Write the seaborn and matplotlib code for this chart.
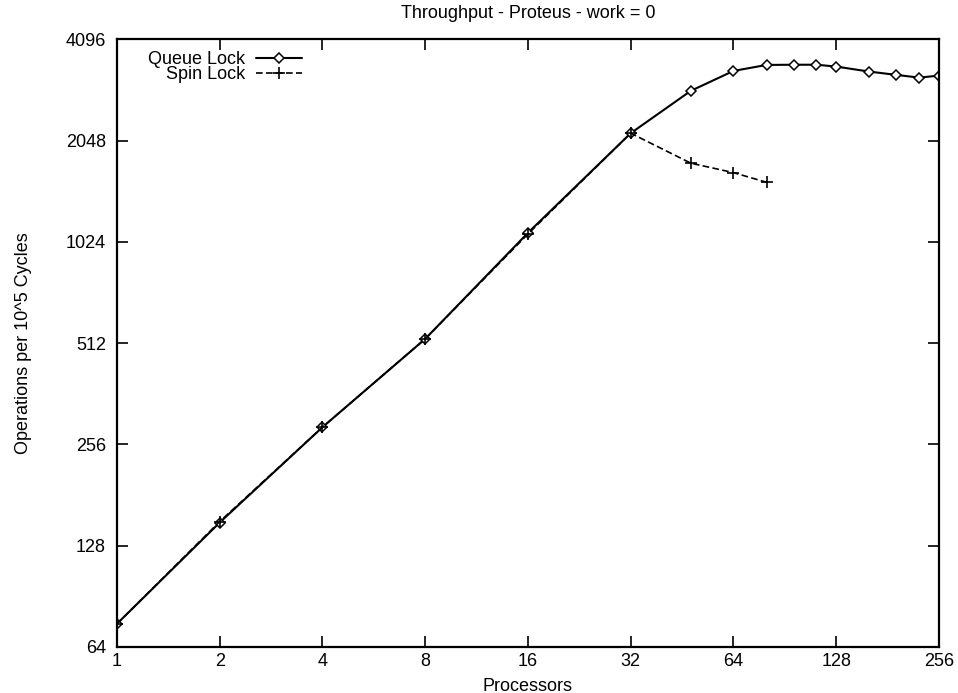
import matplotlib
matplotlib.use("Agg")
import matplotlib.pyplot as plt
import seaborn as sns
import pandas as pd
from matplotlib.ticker import FixedLocator, FixedFormatter, NullLocator

sns.set_style("ticks")
plt.rcParams['font.family'] = ['Liberation Sans', 'DejaVu Sans']
plt.rcParams['text.color'] = 'black'
plt.rcParams['axes.labelcolor'] = 'black'

queue_x = [1, 2, 4, 8, 16, 32, 48, 64, 80, 96, 112, 128, 160, 192, 224, 256]
queue_y = [75, 150, 288, 527, 1089, 2153, 2877, 3297, 3435, 3440, 3440, 3397, 3282, 3209, 3150, 3193]
spin_x = [1, 2, 4, 8, 16, 32, 48, 64, 80]
spin_y = [75, 151, 288, 527, 1080, 2153, 1754, 1644, 1539]

x_ticks = [1, 2, 4, 8, 16, 32, 64, 128, 256]
y_ticks = [64, 128, 256, 512, 1024, 2048, 4096]

fig = plt.figure(figsize=(9.58, 6.93), dpi=100)
ax = fig.add_axes([0.1221, 0.0664, 0.858, 0.877])

qdf = pd.DataFrame({"x": queue_x, "y": queue_y})
sdf = pd.DataFrame({"x": spin_x, "y": spin_y})

sns.lineplot(data=qdf, x="x", y="y", ax=ax, color="black", lw=1.5,
             marker="D", markersize=5, markerfacecolor="white",
             markeredgecolor="black", markeredgewidth=1.1, label="Queue Lock")
sns.lineplot(data=sdf, x="x", y="y", ax=ax, color="black", lw=1.2,
             linestyle=(0, (4, 2)), marker="+", markersize=9,
             markeredgecolor="black", markeredgewidth=1.2, label="Spin Lock")

ax.set_xscale("log", base=2)
ax.set_yscale("log", base=2)
ax.set_xlim(1, 256)
ax.set_ylim(64, 4096)
ax.xaxis.set_major_locator(FixedLocator(x_ticks))
ax.xaxis.set_major_formatter(FixedFormatter([str(v) for v in x_ticks]))
ax.yaxis.set_major_locator(FixedLocator(y_ticks))
ax.yaxis.set_major_formatter(FixedFormatter([str(v) for v in y_ticks]))
ax.xaxis.set_minor_locator(NullLocator())
ax.yaxis.set_minor_locator(NullLocator())
ax.tick_params(direction="in", length=8, width=1.2, top=True, right=True,
               labelsize=13, colors="black")
ax.tick_params(axis="x", pad=4)
ax.tick_params(axis="y", pad=8)
for s in ax.spines.values():
    s.set_linewidth(1.6)
    s.set_color("black")

ax.set_xlabel("Processors", fontsize=13, labelpad=6)
ax.set_ylabel("Operations per 10^5 Cycles", fontsize=13, labelpad=24)
ax.set_title("Throughput - Proteus - work = 0", fontsize=13, pad=15)

leg = ax.legend(loc="upper left", bbox_to_anchor=(0.024, 1.0), frameon=False,
                markerfirst=False, fontsize=13, handlelength=2.5,
                handletextpad=0.6, borderaxespad=0.25, labelspacing=-0.1)
for col in leg._legend_handle_box.get_children():
    col.align = "right"

fig.savefig("out.png", dpi=100)
